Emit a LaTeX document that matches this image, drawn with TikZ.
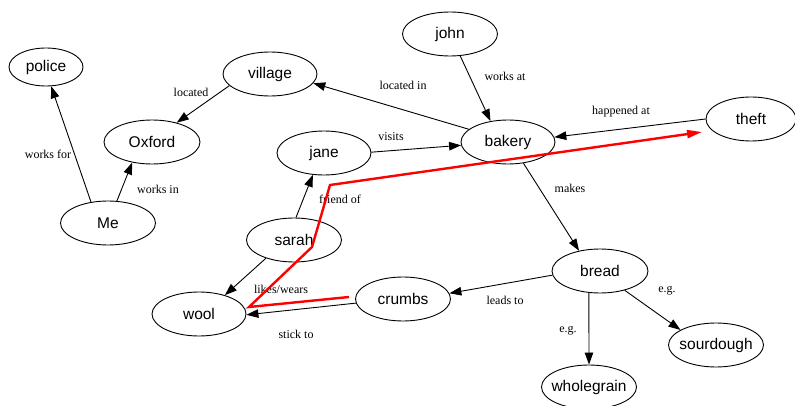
\documentclass[tikz,border=0pt]{standalone}
\usepackage{fontspec}
\setmainfont{Liberation Serif}
\newfontfamily\nodefont{Liberation Sans}
\usetikzlibrary{shapes.geometric,arrows.meta}
\begin{document}
\begin{tikzpicture}[x=1pt,y=-1pt,
  ent/.style={draw,ellipse,line width=0.9pt,minimum width=95pt,minimum height=44pt,inner xsep=-14pt,inner ysep=0pt,font=\nodefont\fontsize{15.5}{18}\selectfont},
  rel/.style={draw,line width=0.9pt,-{Triangle[length=12pt,width=8.5pt]}},
  lbl/.style={font=\fontsize{12}{14}\selectfont,inner sep=0pt},
  hl/.style={draw=red,line width=2.4pt,-{Triangle[length=15pt,width=8pt]}}]
\useasboundingbox (0,0) rectangle (795,406);

\node[ent,minimum width=74pt,minimum height=38pt] (police) at (46,67) {police};
\node[ent] (me) at (108,223) {Me};
\node[ent,minimum width=96pt] (oxford) at (152,142) {Oxford};
\node[ent,minimum width=94pt] (village) at (270,74) {village};
\node[ent] (john) at (450,34) {john};
\node[ent,minimum width=94pt] (jane) at (324,153) {jane};
\node[ent,minimum width=94pt] (bakery) at (508,142) {bakery};
\node[ent,minimum width=90pt] (theft) at (751,119) {theft};
\node[ent] (sarah) at (294,240) {sarah};
\node[ent,minimum width=94pt] (wool) at (199,314) {wool};
\node[ent] (crumbs) at (403,299) {crumbs};
\node[ent,minimum width=96pt] (bread) at (600,271) {bread};
\node[ent] (sourdough) at (716,345) {sourdough};
\node[ent] (wholegrain) at (589,387) {wholegrain};

\draw[rel] (me.129) -- (police.-75) node[lbl] at (48,154) {works for};
\draw[rel] (me.68) -- (oxford.-134) node[lbl] at (158,189) {works in};
\draw[rel] (village.-164) -- (oxford.38) node[lbl] at (191,92) {located};
\draw[rel] (bakery.162) -- (village.-12) node[lbl] at (403,85) {located in};
\draw[rel] (john.-65) -- (bakery.130) node[lbl] at (505,76) {works at};
\draw[rel] (jane.1) -- (bakery.184) node[lbl] at (391,137) {visits};
\draw[rel] (theft.180) -- (bakery.6) node[lbl] at (621,112) {happened at};
\draw[rel] (sarah.85) -- (jane.-117) node[lbl] at (340,199) {friend of};
\draw[rel] (sarah.-147) -- (wool.36) node[lbl] at (281,289) {likes/wears};
\draw[rel] (crumbs.185) -- (wool.-1) node[lbl] at (296,334) {stick to};
\draw[rel] (bread.185) -- (crumbs.7) node[lbl] at (505,300) {leads to};
\draw[rel] (bakery.-54) -- (bread.136) node[lbl] at (570,188) {makes};
\draw[rel] (bread.-117) -- (wholegrain.90) node[lbl] at (568,331) {e.g.};
\draw[rel] (bread.-38) -- (sourdough.157) node[lbl] at (667,291) {e.g.};

\coordinate (r0) at (349,297);
\coordinate (r1) at (249,307);
\coordinate (r2) at (312,247);
\coordinate (r3) at (330,185);
\coordinate (r4) at (702,132);
\draw[hl] (r0) -- (r1) -- (r2) -- (r3) -- (r4);
\end{tikzpicture}
\end{document}
